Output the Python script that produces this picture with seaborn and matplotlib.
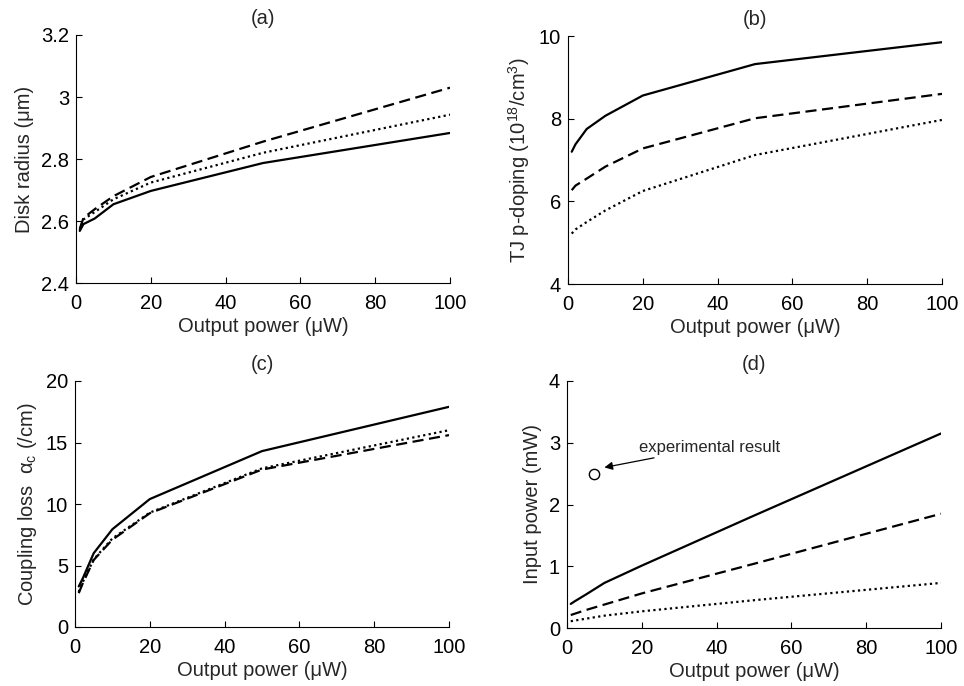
import matplotlib
matplotlib.use("Agg")
import matplotlib.pyplot as plt
from matplotlib.ticker import FuncFormatter
import seaborn as sns

# output power values (uW), shared by every panel
power = [1, 2, 5, 10, 20, 50, 100]

# (a) disk radius (um)
radius_solid = [2.568, 2.59, 2.608, 2.654, 2.697, 2.787, 2.884]
radius_dash = [2.575, 2.61, 2.638, 2.68, 2.742, 2.856, 3.03]
radius_dot = [2.57, 2.605, 2.629, 2.67, 2.724, 2.82, 2.943]

# (b) TJ p-doping (1e18/cm3)
doping_solid = [7.2, 7.38, 7.75, 8.07, 8.56, 9.32, 9.85]
doping_dash = [6.27, 6.38, 6.55, 6.84, 7.28, 8.01, 8.6]
doping_dot = [5.22, 5.32, 5.5, 5.78, 6.25, 7.12, 7.97]

# (c) coupling loss (/cm)
loss_solid = [3.3, 3.9, 6.0, 7.95, 10.4, 14.3, 17.9]
loss_dash = [2.75, 3.5, 5.45, 7.1, 9.25, 12.8, 15.6]
loss_dot = [2.85, 3.6, 5.5, 7.2, 9.3, 12.9, 16.0]

# (d) input power (mW)
input_solid = [0.39, 0.43, 0.54, 0.73, 1.01, 1.82, 3.15]
input_dash = [0.21, 0.23, 0.29, 0.38, 0.56, 1.04, 1.85]
input_dot = [0.11, 0.12, 0.15, 0.2, 0.27, 0.45, 0.73]

# experimental point in (d)
exp_x = [7.3]
exp_y = [2.5]

sns.set_style("ticks")
plt.rcParams["font.family"] = ["Liberation Sans", "DejaVu Sans"]
plt.rcParams["mathtext.fontset"] = "custom"
plt.rcParams["mathtext.rm"] = "Liberation Sans"
plt.rcParams["mathtext.it"] = "Liberation Sans:italic"
plt.rcParams["font.size"] = 14.5

fig = plt.figure(figsize=(9.64, 6.86), dpi=100)

w, h = 374 / 964, 248 / 686
pos = {
    "a": [76 / 964, (686 - 283) / 686, w, h],
    "b": [568 / 964, (686 - 284) / 686, w, h],
    "c": [75 / 964, (686 - 627) / 686, w, 246 / 686],
    "d": [567 / 964, (686 - 628) / 686, w, 247 / 686],
}

panels = [
    ("a", radius_solid, radius_dash, radius_dot, (2.4, 3.2), [2.4, 2.6, 2.8, 3.0, 3.2], "Disk radius (μm)"),
    ("b", doping_solid, doping_dash, doping_dot, (4, 10), [4, 6, 8, 10], "TJ p-doping (10$^{18}$/cm$^{3}$)"),
    ("c", loss_solid, loss_dash, loss_dot, (0, 20), [0, 5, 10, 15, 20], "Coupling loss  α$_{\\rm c}$ (/cm)"),
    ("d", input_solid, input_dash, input_dot, (0, 4), [0, 1, 2, 3, 4], "Input power (mW)"),
]

fmt = FuncFormatter(lambda v, p: "%g" % v)

for key, ys, yd, yo, ylim, yticks, ylabel in panels:
    ax = fig.add_axes(pos[key])
    sns.lineplot(x=power, y=ys, ax=ax, color="black", lw=1.6, linestyle="-")
    sns.lineplot(x=power, y=yd, ax=ax, color="black", lw=1.6, linestyle=(0, (5, 2.5)))
    sns.lineplot(x=power, y=yo, ax=ax, color="black", lw=1.6, linestyle=(0, (1, 1.5)))
    ax.set_xlim(0, 100)
    ax.set_ylim(*ylim)
    ax.set_xticks([0, 20, 40, 60, 80, 100])
    ax.set_yticks(yticks)
    ax.yaxis.set_major_formatter(fmt)
    ax.set_xlabel("Output power (μW)", labelpad=3)
    ax.set_ylabel(ylabel, labelpad=5)
    ax.set_title("(%s)" % key, fontsize=14.5, pad=8)
    ax.tick_params(direction="in", length=4, width=0.8, colors="black", labelsize=14.5)
    ax.tick_params(axis="x", pad=8)
    ax.tick_params(axis="y", pad=5)
    sns.despine(ax=ax)
    for s in ["left", "bottom"]:
        ax.spines[s].set_linewidth(0.8)
        ax.spines[s].set_color("black")

    if key == "d":
        sns.scatterplot(x=exp_x, y=exp_y, ax=ax, marker="o", s=55,
                        facecolor="white", edgecolor="black", linewidth=1.0, zorder=5)
        ax.annotate("experimental result", xy=(10.0, 2.6), xytext=(19.3, 2.93),
                    fontsize=12, va="center", ha="left",
                    arrowprops=dict(arrowstyle="-|>", color="black", lw=0.9,
                                    mutation_scale=12, shrinkA=0, shrinkB=0))

fig.savefig("out.png", dpi=100)
